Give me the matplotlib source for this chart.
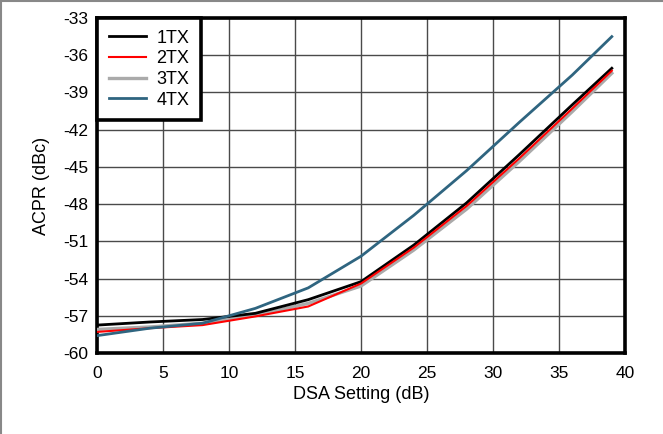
import matplotlib
matplotlib.use('Agg')
import matplotlib.pyplot as plt
from matplotlib.lines import Line2D

plt.rcParams['font.family'] = ['Liberation Sans', 'DejaVu Sans']
plt.rcParams['axes.unicode_minus'] = False

# DSA setting (dB)
dsa = [0, 4, 8, 12, 16, 20, 24, 28, 32, 36, 39]

# ACPR (dBc) per TX
acpr_1tx = [-57.75, -57.5, -57.3, -56.8, -55.7, -54.25, -51.3, -47.9, -44.0, -40.0, -37.05]
acpr_2tx = [-58.3, -58.0, -57.75, -57.05, -56.25, -54.4, -51.5, -48.15, -44.3, -40.3, -37.25]
acpr_3tx = [-58.1, -57.9, -57.6, -56.95, -56.0, -54.6, -51.7, -48.4, -44.55, -40.55, -37.45]
acpr_4tx = [-58.6, -58.0, -57.6, -56.4, -54.75, -52.2, -48.9, -45.3, -41.4, -37.6, -34.5]

labels = ['1TX', '2TX', '3TX', '4TX']
colors = ['black', '#ff0000', '#aaaaaa', '#2f6580']

fig = plt.figure(figsize=(6.63, 4.34), dpi=100)
ax = fig.add_axes([0.1463, 0.1866, 0.7964, 0.7719])

series = [acpr_1tx, acpr_2tx, acpr_3tx, acpr_4tx]
zorders = [4, 5, 3, 6]
widths = [2.0, 1.5, 2.4, 2.0]
for ys, lab, c, z, w in zip(series, labels, colors, zorders, widths):
    ax.plot(dsa, ys, color=c, lw=w, label=lab, zorder=z)

ax.set_xlim(0, 40)
ax.set_ylim(-60, -33)
ax.set_xticks(range(0, 41, 5))
ax.set_yticks(range(-60, -32, 3))
ax.grid(True, color='#4a4a4a', lw=1.0)
ax.set_axisbelow(True)
ax.tick_params(axis='x', length=0, labelsize=12.5, pad=9)
ax.tick_params(axis='y', length=0, labelsize=12.5, pad=6)
for s in ax.spines.values():
    s.set_linewidth(2.6)
    s.set_color('black')

ax.set_xlabel('DSA Setting (dB)', fontsize=13, labelpad=4)
ax.set_ylabel('ACPR (dBc)', fontsize=13, labelpad=10)

leg = ax.legend(loc='upper left', borderaxespad=0, fontsize=13, fancybox=False,
                framealpha=1, edgecolor='black', handlelength=2.05, handletextpad=0.6,
                labelspacing=0.2, borderpad=0.65)
leg.get_frame().set_linewidth(2.6)
leg.set_zorder(10)

# thin gray figure border (top and left)
fig.add_artist(Line2D([0, 1], [0.998, 0.998], color='#888888', lw=1.5, transform=fig.transFigure))
fig.add_artist(Line2D([0.002, 0.002], [0, 1], color='#888888', lw=1.5, transform=fig.transFigure))

fig.savefig('out.png', dpi=100)
